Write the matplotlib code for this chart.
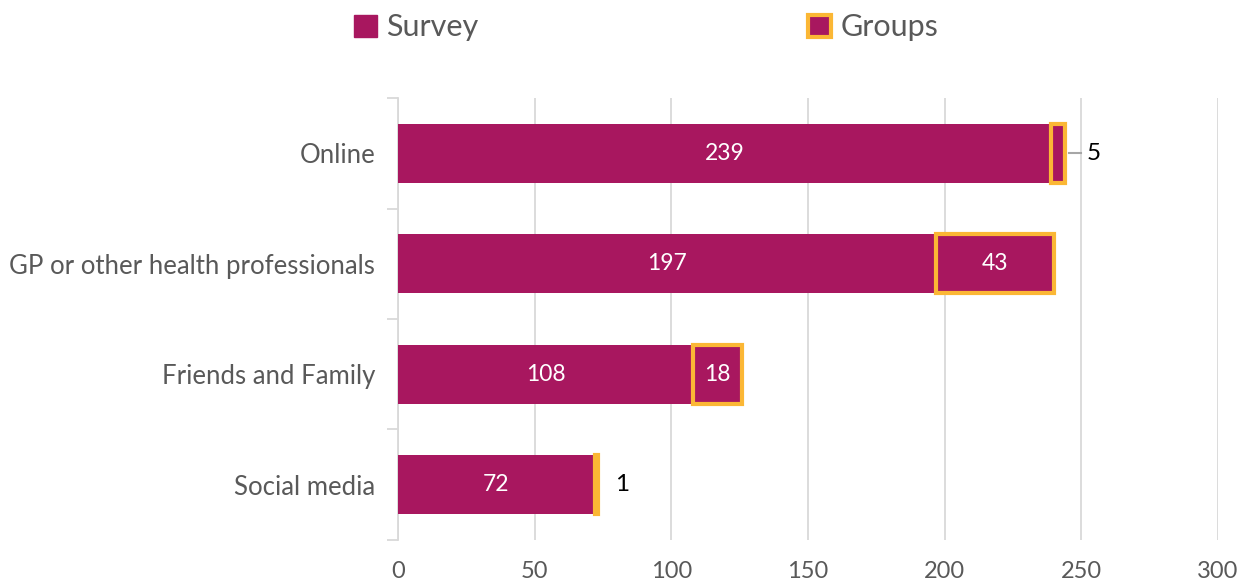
import numpy as np
import matplotlib.pyplot as plt
from matplotlib.patches import Patch

categories = ['Online', 'GP or other health professionals', 'Friends and Family', 'Social media']
survey = [239, 197, 108, 72]
groups = [5, 43, 18, 1]

magenta = '#A8175F'
orange = '#FBB735'
grey_txt = '#595959'

plt.rcParams['font.family'] = ['Lato', 'DejaVu Sans']

fig = plt.figure(figsize=(12.5, 5.82), dpi=100)
ax = fig.add_axes([0.3184, 0.0722, 0.656, 0.7594])

y = np.arange(len(categories))
h = 0.53
ax.barh(y, survey, height=h, color=magenta, zorder=3)
ax.barh(y, groups, left=survey, height=h, color=magenta, edgecolor=orange,
        linewidth=3, zorder=3)

for i, (s, g) in enumerate(zip(survey, groups)):
    ax.text(s / 2, i, str(s), ha='center', va='center', color='white',
            fontsize=16.5, zorder=4)
    if g >= 10:
        ax.text(s + g / 2, i, str(g), ha='center', va='center', color='white',
                fontsize=16.5, zorder=4)
    elif g >= 3:
        ax.plot([s + g + 1.5, s + g + 6], [i, i], color='#A6A6A6', lw=1.5, zorder=4)
        ax.text(s + g + 8, i, str(g), ha='left', va='center', color='black',
                fontsize=17.5, zorder=4)
    else:
        ax.text(s + g + 6.5, i, str(g), ha='left', va='center', color='black',
                fontsize=17.5, zorder=4)

ax.set_xlim(0, 300)
ax.set_ylim(3.5, -0.5)
ax.set_xticks(np.arange(0, 301, 50))
ax.tick_params(axis='x', length=0, labelsize=17, labelcolor=grey_txt, pad=15)
ax.grid(axis='x', color='#D9D9D9', lw=1.3, zorder=0)

ax.set_yticks(np.arange(-0.5, 3.6, 1))
ax.set_yticklabels([])
ax.set_yticks(y, minor=True)
ax.set_yticklabels(categories, minor=True)
ax.tick_params(axis='y', which='major', length=8, color='#D9D9D9', width=1.3)
ax.tick_params(axis='y', which='minor', length=0, labelsize=18.5,
               labelcolor=grey_txt, pad=16.5)

for side in ['top', 'right', 'bottom']:
    ax.spines[side].set_visible(False)
ax.spines['left'].set_color('#D9D9D9')
ax.spines['left'].set_linewidth(1.3)

handles = [Patch(facecolor=magenta, edgecolor=magenta, label='Survey'),
           Patch(facecolor=magenta, edgecolor=orange, linewidth=3, label='Groups')]
leg = fig.legend(handles=handles, loc='center', bbox_to_anchor=(0.517, 0.953), ncol=2,
                 frameon=False, fontsize=22, handlelength=0.75, handleheight=0.75,
                 handletextpad=0.3, columnspacing=10.8)
for t in leg.get_texts():
    t.set_color(grey_txt)

fig.savefig('out.png', dpi=100)
